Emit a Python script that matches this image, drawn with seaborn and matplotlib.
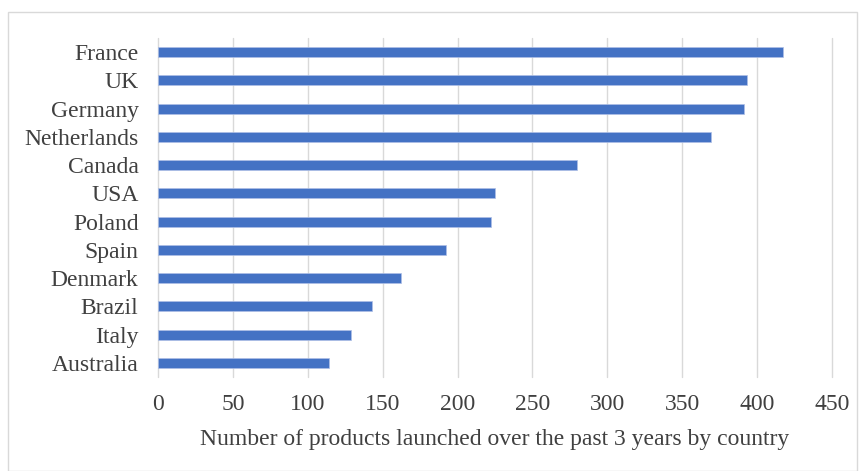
import matplotlib
matplotlib.use("Agg")
import matplotlib.pyplot as plt
import seaborn as sns
import pandas as pd
from matplotlib.patches import Rectangle

countries = ["France", "UK", "Germany", "Netherlands", "Canada", "USA",
             "Poland", "Spain", "Denmark", "Brazil", "Italy", "Australia"]
values = [417, 393, 391, 369, 280, 225, 222, 192, 162, 143, 129, 114]
xticks = [0, 50, 100, 150, 200, 250, 300, 350, 400, 450]
xlabel = "Number of products launched over the past 3 years by country"

df = pd.DataFrame({"country": countries, "value": values})

sns.set_theme(style="white")
plt.rcParams["font.family"] = ["Liberation Serif", "DejaVu Serif"]

fig = plt.figure(figsize=(8.63, 4.71), dpi=100)
W, H = 863, 471
left, right, top, bottom = 158, 832, 38, 377
ax = fig.add_axes([left / W, 1 - bottom / H, (right - left) / W, (bottom - top) / H])

sns.barplot(data=df, x="value", y="country", orient="h", color="#4472C4",
            width=0.35, saturation=1, ax=ax, edgecolor="#aebfe6", linewidth=0.5)

ax.set_xlim(0, 450)
ax.set_ylim(11.5, -0.5)
ax.set_xticks(xticks)
ax.set_xticklabels([str(t) for t in xticks])
ax.xaxis.grid(True, color="#d9d9d9", linewidth=1)
for gl in ax.get_xgridlines():
    gl.set_clip_on(False)
ax.set_axisbelow(True)
for s in ax.spines.values():
    s.set_visible(False)
ax.tick_params(axis="both", length=0, labelsize=17, colors="#404040")
ax.tick_params(axis="x", pad=12)
ax.tick_params(axis="y", pad=14)
ax.set_ylabel("")
ax.set_xlabel(xlabel, fontsize=17, color="#404040", labelpad=10)

fig.patches.append(Rectangle((8 / W, 0), (857 - 8) / W, 1 - 12 / H,
                             transform=fig.transFigure, fill=False,
                             edgecolor="#d9d9d9", linewidth=1))

fig.savefig("out.png", dpi=100)
